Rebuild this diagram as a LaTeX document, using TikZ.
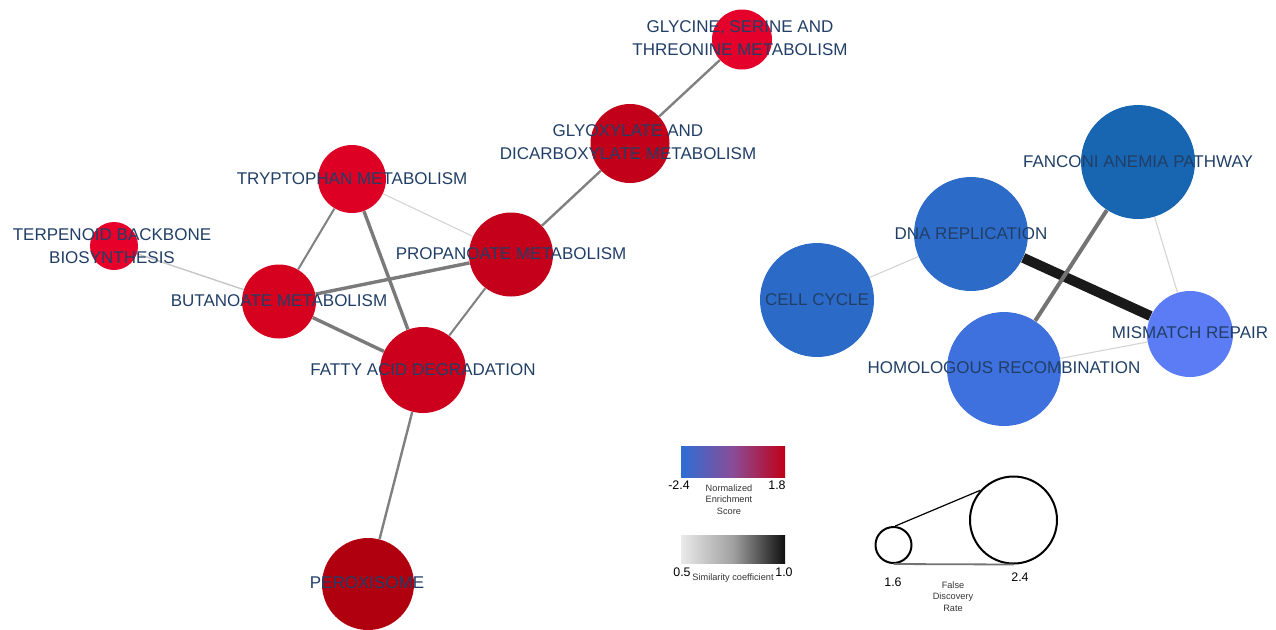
\documentclass[tikz,border=0pt]{standalone}
\usepackage{fontspec}
\setmainfont{Liberation Sans}
\usetikzlibrary{backgrounds}
\definecolor{labc}{HTML}{213F66}
\definecolor{cGSTM}{HTML}{E5002B}
\definecolor{cGLY}{HTML}{C20019}
\definecolor{cTRP}{HTML}{DE0024}
\definecolor{cTER}{HTML}{E6002A}
\definecolor{cBUT}{HTML}{D6001F}
\definecolor{cPRO}{HTML}{C4001A}
\definecolor{cFAT}{HTML}{CC001D}
\definecolor{cPER}{HTML}{B0000F}
\definecolor{cFAN}{HTML}{1865B2}
\definecolor{cDNA}{HTML}{2D6BC9}
\definecolor{cCEL}{HTML}{2C6AC7}
\definecolor{cHOM}{HTML}{3E71DD}
\definecolor{cMIS}{HTML}{5B7CF5}
\begin{document}
\begin{tikzpicture}[x=0.5pt,y=-0.5pt,
  nd/.style={circle,inner sep=0pt,minimum size={#1*0.5pt},draw=none},
  lab/.style={font=\fontsize{8.5}{11.5}\selectfont,text=labc,align=center,inner sep=0pt},
  light/.style={draw=black!17,line width=0.55pt},
  mid/.style={draw=black!50,line width=1.2pt},
  strong/.style={draw=black!52,line width=1.7pt},
  heavy/.style={draw=black!90,line width=5pt},
  legnum/.style={font=\fontsize{6.2}{7}\selectfont,inner sep=0pt},
  legtxt/.style={font=\fontsize{4.6}{5.7}\selectfont,align=center,inner sep=0pt,text=black!80},
  fdr/.style={circle,draw=black,line width=1pt,inner sep=0pt,minimum size={#1*0.5pt}}
]
\useasboundingbox (0,0) rectangle (1276,629);

% ---- nodes (circles) ----
\node[nd=60,fill=cGSTM] (gstm) at (742,39.5) {};
\node[nd=79,fill=cGLY] (gly) at (630,143.5) {};
\node[nd=68,fill=cTRP] (trp) at (352,179) {};
\node[nd=48,fill=cTER] (ter) at (114,246) {};
\node[nd=74,fill=cBUT] (but) at (279,301.5) {};
\node[nd=84,fill=cPRO] (pro) at (511,254.5) {};
\node[nd=86,fill=cFAT] (fat) at (423,370) {};
\node[nd=92,fill=cPER] (per) at (368,584) {};
\node[nd=114,fill=cFAN] (fan) at (1138,162) {};
\node[nd=114,fill=cDNA] (dna) at (971,234) {};
\node[nd=114,fill=cCEL] (cel) at (817,300) {};
\node[nd=114,fill=cHOM] (hom) at (1004,369) {};
\node[nd=86,fill=cMIS] (mis) at (1190,334) {};

% ---- edges ----
\begin{scope}[on background layer]
\draw[mid] (gstm) -- (gly);
\draw[mid] (gly) -- (pro);
\draw[light] (trp) -- (pro);
\draw[mid,line width=1pt] (trp) -- (but);
\draw[strong] (trp) -- (fat);
\draw[strong] (but) -- (pro);
\draw[strong] (but) -- (fat);
\draw[mid,line width=1pt] (pro) -- (fat);
\draw[light,draw=black!22,line width=0.7pt] (ter) -- (but);
\draw[mid] (fat) -- (per);
\draw[light] (cel) -- (dna);
\draw[heavy] (dna) -- (mis);
\draw[strong,draw=black!55,line width=2pt] (fan) -- (hom);
\draw[light] (fan) -- (mis);
\draw[light] (hom) -- (mis);
\end{scope}

% ---- labels ----
\node[lab] (gstmL) at (740,38.5) {GLYCINE, SERINE AND\\THREONINE METABOLISM};
\node[lab] (glyL) at (628,142.5) {GLYOXYLATE AND\\DICARBOXYLATE METABOLISM};
\node[lab] (trpL) at (352,179) {TRYPTOPHAN METABOLISM};
\node[lab] (terL) at (112,246.5) {TERPENOID BACKBONE\\BIOSYNTHESIS};
\node[lab] (butL) at (279,301) {BUTANOATE METABOLISM};
\node[lab] (proL) at (511,254) {PROPANOATE METABOLISM};
\node[lab] (fatL) at (423,370) {FATTY ACID DEGRADATION};
\node[lab] (perL) at (367,583) {PEROXISOME};
\node[lab] (fanL) at (1138,162) {FANCONI ANEMIA PATHWAY};
\node[lab] (dnaL) at (971,234) {DNA REPLICATION};
\node[lab] (celL) at (817,300) {CELL CYCLE};
\node[lab] (homL) at (1004,368) {HOMOLOGOUS RECOMBINATION};
\node[lab] (misL) at (1190,333) {MISMATCH REPAIR};

% ---- legend: NES ----
\shade[left color={rgb,255:red,46;green,110;blue,212},right color={rgb,255:red,192;green,0;blue,24},middle color={rgb,255:red,138;green,76;blue,150}] (681,446) rectangle (785,477);
\node[legnum] (nesmin) at (679,485) {-2.4};
\node[legnum] (nesmax) at (777,485) {1.8};
\node[legtxt] (nestxt) at (729,499.5) {Normalized\\Enrichment\\Score};

% ---- legend: similarity ----
\shade[left color={rgb,255:red,234;green,234;blue,234},right color={rgb,255:red,15;green,15;blue,15},middle color={rgb,255:red,160;green,160;blue,160}] (681,535) rectangle (785,563);
\node[legnum] (simmin) at (682,572) {0.5};
\node[legnum] (simmax) at (784,572) {1.0};
\node[legtxt] (simtxt) at (733,578) {Similarity coefficient};

% ---- legend: FDR ----
\node[fdr=36] (fs) at (893.5,545) {};
\node[fdr=87] (fb) at (1013.5,520) {};
\draw[black,line width=0.6pt] (fs.85) -- (fb.138);
\draw[black!55,line width=0.9pt] (fs.south) -- (fb.south);
\node[legnum] (fdrmin) at (893,582) {1.6};
\node[legnum] (fdrmax) at (1020,577) {2.4};
\node[legtxt] (fdrtxt) at (953,596.5) {False\\Discovery\\Rate};
\end{tikzpicture}
\end{document}
